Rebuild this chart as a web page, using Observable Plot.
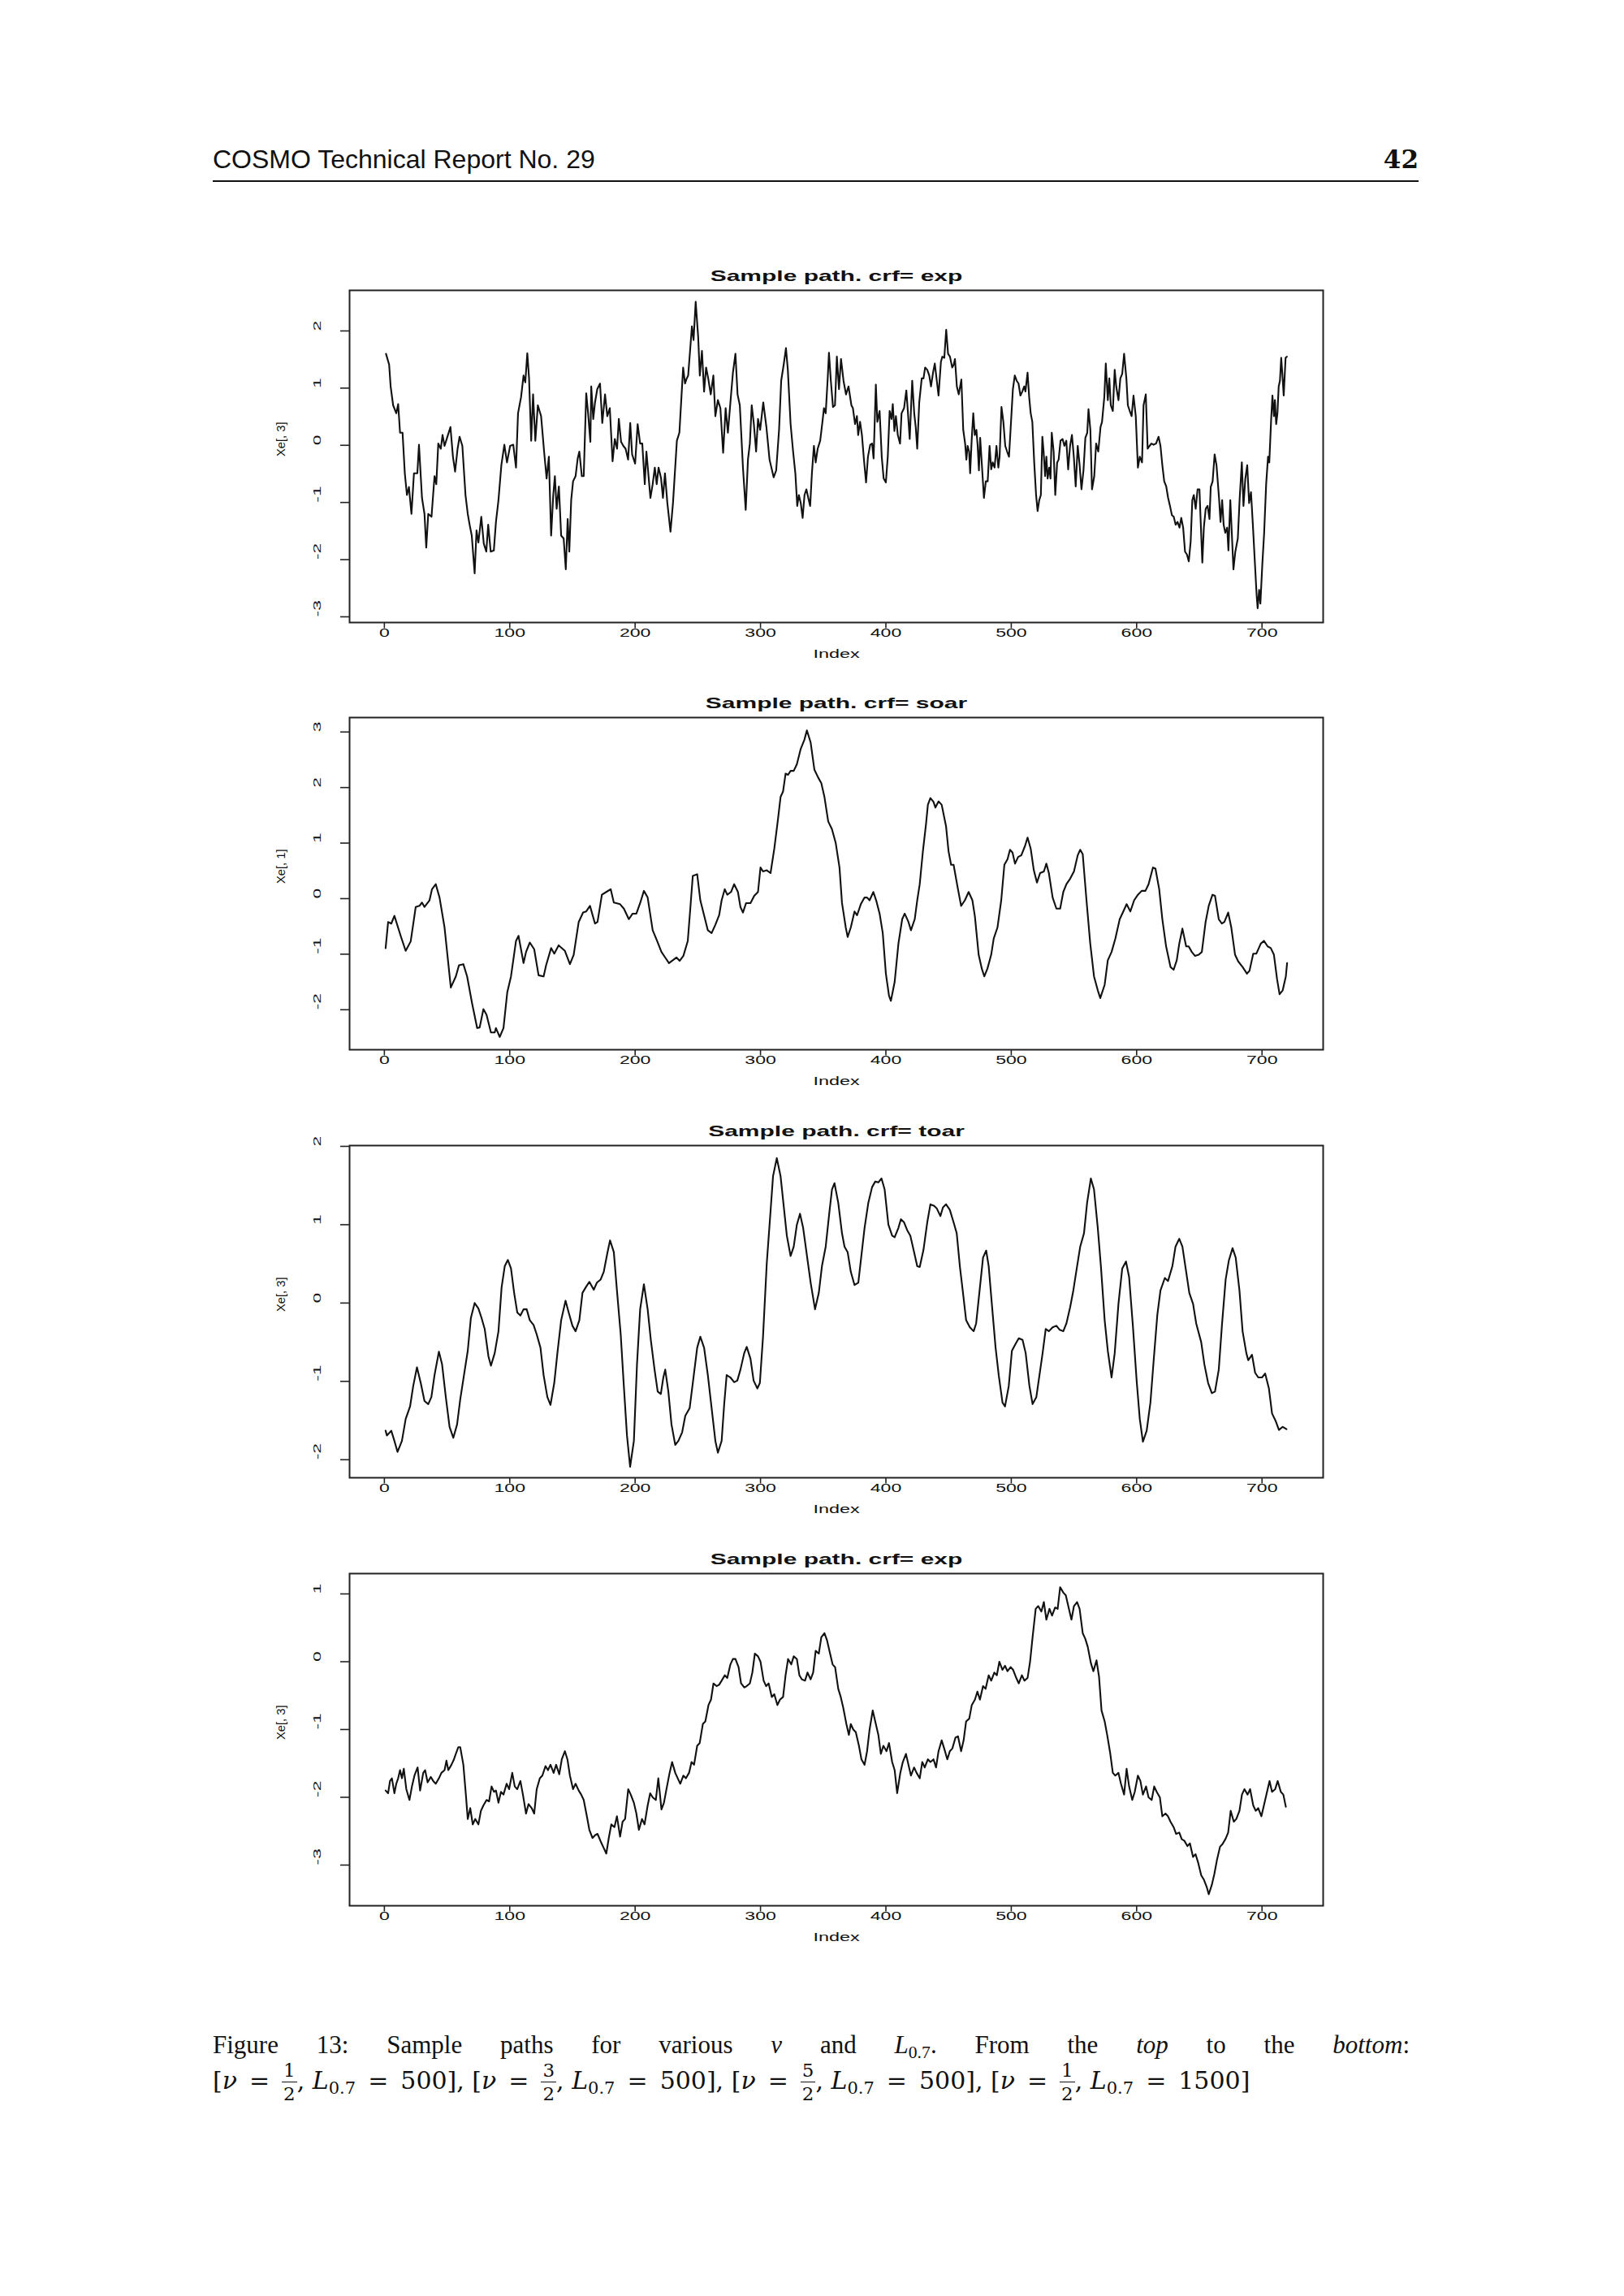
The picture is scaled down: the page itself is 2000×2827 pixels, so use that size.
<!DOCTYPE html>
<html><head><meta charset="utf-8">
<script src="https://cdn.jsdelivr.net/npm/d3@7"></script>
<script src="https://cdn.jsdelivr.net/npm/@observablehq/plot@0.6"></script>
<style>
html,body{margin:0;padding:0;background:#fff;}
#page{position:relative;width:2000px;height:2827px;overflow:hidden;background:#fff;color:#111;}
.hdr{position:absolute;top:180px;left:262px;font-family:"Liberation Sans",Arial,sans-serif;font-size:32px;line-height:1;white-space:nowrap;}
.pno{position:absolute;top:181px;right:253px;font-family:"DejaVu Serif",serif;font-weight:bold;font-size:31px;line-height:1;}
.rule{position:absolute;top:222px;left:262px;width:1485px;height:2px;background:#111;}
.panel{position:absolute;left:330px;}
.cap{position:absolute;left:262px;font-family:"Liberation Serif","Times New Roman",serif;font-size:31px;white-space:nowrap;}
.l1{top:2502px;width:1474px;line-height:1;text-align:justify;text-align-last:justify;white-space:normal;}
.l2{top:2535px;line-height:1.8;font-family:"DejaVu Serif",serif;font-size:30px;}
.l2 i{font-family:"DejaVu Serif",serif;}
.l1 sub,.l2 sub{font-size:0.7em;vertical-align:-0.28em;line-height:0;}
.eq{margin:0 15px;}
.frac{display:inline-block;vertical-align:-14px;font-size:23px;line-height:1;text-align:center;font-style:normal;}
.frac span{display:block;padding:0 2px;}
.frac .n{border-bottom:1.5px solid #111;padding-bottom:2px;}
.frac .d{padding-top:3px;}
</style></head><body>
<div id="page">
  <div class="hdr">COSMO Technical Report No. 29</div>
  <div class="pno">42</div>
  <div class="rule"></div>
  <div id="p1" class="panel" style="top:307px"></div>
  <div id="p2" class="panel" style="top:833px"></div>
  <div id="p3" class="panel" style="top:1360px"></div>
  <div id="p4" class="panel" style="top:1887px"></div>
  <div class="cap l1">Figure 13: Sample paths for various <i>ν</i> and <i>L</i><sub>0.7</sub>. From the <i>top</i> to the <i>bottom</i>:</div>
  <div class="cap l2">[<i>ν</i><span class="eq">=</span><span class="frac"><span class="n">1</span><span class="d">2</span></span>, <i>L</i><sub>0.7</sub><span class="eq">=</span>500], [<i>ν</i><span class="eq">=</span><span class="frac"><span class="n">3</span><span class="d">2</span></span>, <i>L</i><sub>0.7</sub><span class="eq">=</span>500], [<i>ν</i><span class="eq">=</span><span class="frac"><span class="n">5</span><span class="d">2</span></span>, <i>L</i><sub>0.7</sub><span class="eq">=</span>500], [<i>ν</i><span class="eq">=</span><span class="frac"><span class="n">1</span><span class="d">2</span></span>, <i>L</i><sub>0.7</sub><span class="eq">=</span>1500]</div>
</div>
<script>
// ---- data (index, value) ----
const X_TICKS = [0, 100, 200, 300, 400, 500, 600, 700];
const X_LABEL = "Index";
const X_DOMAIN = [-27.76, 748.76];

const TITLES = ["Sample path. crf= exp", "Sample path. crf= soar", "Sample path. crf= toar", "Sample path. crf= exp"];
const Y_LABELS = ["Xe[, 3]", "Xe[, 1]", "Xe[, 3]", "Xe[, 3]"];
const Y_TICKS_1 = [-3, -2, -1, 0, 1, 2];
const Y_TICKS_2 = [-2, -1, 0, 1, 2, 3];
const Y_TICKS_3 = [-2, -1, 0, 1, 2];
const Y_TICKS_4 = [-3, -2, -1, 0, 1];
const Y_DOMAIN_1 = [-3.10, 2.71];
const Y_DOMAIN_2 = [-2.72, 3.26];
const Y_DOMAIN_3 = [-2.23, 2.01];
const Y_DOMAIN_4 = [-3.60, 1.30];

const PATH_1 = [[1.3,1.60],[3.8,1.41],[5,1.03],[7,0.70],[9.5,0.56],[11,0.72],[12.5,0.22],[14.5,0.22],[16.3,-0.49],[18,-0.87],[19.6,-0.73],[21.6,-1.2],[23.6,-0.49],[26.3,-0.49],[27.6,0.01],[30,-0.92],[32,-1.2],[33.4,-1.79],[35,-1.2],[37.6,-1.25],[40,-0.54],[41.4,-0.68],[43,0.03],[45,-0.06],[46.4,0.18],[48,-0.01],[50,0.13],[52.7,0.32],[54.7,-0.2],[56.4,-0.46],[58.4,-0.06],[60,0.15],[62.2,-0.01],[64.7,-0.87],[66.5,-1.2],[68,-1.39],[69.7,-1.58],[72,-2.24],[73.5,-1.49],[75,-1.7],[77.3,-1.25],[79.3,-1.72],[81.3,-1.86],[82.8,-1.39],[84.8,-1.86],[87.3,-1.84],[89,-1.34],[91,-0.96],[93.3,-0.35],[95.7,0.01],[97.8,-0.3],[100.3,-0.01],[102.8,0.01],[105,-0.39],[106.6,0.56],[109,0.84],[111,1.22],[112.4,1.1],[114,1.61],[115.4,1.17],[117.1,0.08],[118.6,0.89],[120.4,0.08],[122.4,0.7],[125,0.51],[127.4,-0.11],[129.4,-0.58],[131.2,-0.2],[133,-1.58],[134.7,-0.87],[136,-0.54],[137.4,-1.11],[139.2,-0.72],[141,-1.58],[143,-1.63],[144.7,-2.17],[146.2,-1.29],[147.5,-1.86],[149,-0.96],[150.5,-0.63],[152.5,-0.54],[154.2,-0.23],[155.5,-0.11],[157.5,-0.54],[159,-0.54],[161,0.91],[162.5,0.56],[164.3,0.06],[165,1.03],[166.6,0.46],[168,0.75],[169.8,0.98],[172,1.08],[173.8,0.39],[176,0.89],[177.8,0.51],[179.8,0.65],[182,-0.28],[183.8,0.11],[185.6,-0.06],[187,0.46],[188.8,0.06],[190.6,-0.01],[192.4,-0.06],[194.4,-0.25],[196.1,0.39],[197.6,-0.16],[200,-0.32],[202,0.37],[204,0.03],[205.7,0.03],[207.7,-0.68],[209,-0.11],[210.7,-0.54],[212.2,-0.92],[214,-0.68],[215.7,-0.39],[217.2,-0.68],[218.7,-0.39],[220.7,-0.58],[222.2,-0.92],[223.8,-0.49],[225.7,-1.01],[228.2,-1.51],[230.2,-1.01],[233.3,0.08],[235.3,0.22],[236.8,0.79],[238.3,1.36],[239.8,1.08],[240.8,1.15],[242.3,1.22],[244.3,1.79],[245.3,2.08],[246.6,1.84],[248.3,2.51],[250.3,1.89],[251.6,1.22],[253.3,1.65],[255,0.94],[256.6,1.36],[258.3,1.17],[260.3,0.89],[262.4,1.22],[264,0.51],[266,0.79],[268,0.65],[270.2,-0.13],[272.2,0.65],[274,0.22],[276,0.75],[278,1.27],[280,1.6],[281.7,0.89],[283.5,0.7],[286,-0.39],[288.2,-1.13],[290,-0.25],[291.5,0.03],[293,0.7],[294.7,0.37],[296.5,-0.11],[298,0.46],[299.7,0.27],[302.2,0.75],[304.7,0.32],[307.2,-0.25],[310.5,-0.56],[312.5,-0.44],[314.8,0.27],[316.5,1.13],[318.5,1.41],[320.3,1.7],[321.8,1.32],[324,0.37],[326,-0.11],[327.8,-0.49],[329.3,-1.06],[330.6,-0.87],[332.1,-1.01],[333.6,-1.27],[335.1,-0.87],[336.6,-0.77],[338.1,-0.92],[339.6,-1.06],[341,-0.49],[342.6,-0.01],[344,-0.3],[345.6,-0.06],[347.6,0.08],[349.4,0.41],[350.6,0.65],[352,0.56],[353.6,1.17],[354.6,1.62],[356.1,1.13],[357.8,0.67],[359.4,0.7],[360.9,1.55],[362.6,0.98],[364.2,1.51],[366.2,1.13],[368.2,0.89],[370.2,1.03],[372.5,0.7],[373.7,0.65],[375.4,0.37],[376.9,0.51],[377.9,0.18],[379.4,0.41],[380.9,0.18],[382.5,-0.25],[384.2,-0.65],[385.7,-0.2],[387.5,0.01],[389,0.03],[390.2,-0.23],[392,1.06],[393.2,0.41],[395,0.6],[396.7,-0.2],[398.2,-0.58],[400,-0.65],[401.5,-0.2],[403,0.6],[404.5,0.46],[405.5,0.72],[406.8,0.25],[408,0.51],[409.5,0.18],[411.3,0.03],[412.5,0.56],[414.5,0.65],[416.3,0.96],[417.5,0.6],[419,0.11],[421,1.13],[422.6,0.56],[423.8,0.32],[425,-0.06],[426.6,0.75],[428.6,1.17],[430,1.17],[431.3,1.36],[433,1.32],[434.6,1.22],[436,1.03],[437.6,1.27],[439,1.43],[440.6,1.13],[442,0.87],[443.9,1.46],[445,1.55],[446.6,1.53],[448.1,2.02],[449.6,1.6],[451.1,1.55],[452.9,1.36],[454.1,1.41],[455.1,1.51],[456.6,1.03],[458.1,0.89],[460.2,1.15],[461.7,0.27],[463.2,0.03],[464.2,-0.25],[465.2,-0.01],[466.4,-0.11],[467.2,-0.49],[468.4,0.08],[469.7,0.56],[470.9,0.18],[472.2,0.27],[473.2,-0.01],[474.2,-0.44],[475.2,0.13],[476.7,-0.39],[478.2,-0.92],[479.7,-0.63],[481.2,-0.63],[482.7,-0.01],[484,-0.42],[485.2,-0.3],[486.7,-0.39],[488.2,-0.01],[489.7,-0.39],[490.7,-0.2],[492.2,0.67],[493.7,0.41],[495.2,-0.01],[496.7,-0.11],[498.2,-0.2],[499.7,0.37],[501.3,0.98],[502.8,1.22],[504.3,1.13],[505.8,1.08],[507.3,0.87],[508.8,0.94],[510.3,1.03],[511.3,0.94],[513,1.27],[514.3,0.84],[515.5,0.56],[516.8,0.41],[518.3,-0.3],[519.8,-0.87],[521,-1.15],[522.3,-0.96],[523.6,-0.87],[524.8,0.15],[525.8,-0.11],[527,-0.54],[528,-0.2],[529,-0.58],[530.3,-0.39],[531.3,-0.58],[532.3,0.22],[533.8,-0.11],[535.1,-0.87],[536.6,-0.3],[537.8,-0.25],[539.3,0.08],[540.9,0.11],[542.4,-0.01],[543.9,0.08],[545.4,-0.42],[546.9,-0.01],[548.4,0.18],[549.9,-0.2],[551.4,-0.72],[553,-0.01],[554.5,-0.34],[556,-0.77],[557.6,-0.44],[559.1,0.13],[560.6,0.22],[561.6,0.63],[563.1,0.27],[564.4,-0.77],[566.2,-0.54],[567.7,0.03],[569.4,-0.11],[571.2,0.32],[572.4,0.41],[574.2,0.84],[575.4,1.43],[577,0.79],[578.2,1.17],[579.4,0.7],[581,0.6],[582.5,1.32],[583.7,1.03],[585.5,0.79],[587,1.17],[588.5,1.25],[590,1.6],[591.8,1.17],[593,0.7],[594.5,0.6],[596,0.51],[597.5,0.87],[599.3,0.51],[601,-0.39],[602.5,-0.2],[604.3,-0.3],[605.5,0.7],[607.3,0.89],[608.8,-0.06],[610.3,-0.01],[611.8,0.03],[613.5,0.01],[615.5,0.03],[617.5,0.15],[619,-0.01],[620.5,-0.35],[622,-0.63],[623.6,-0.72],[625.1,-0.92],[626.6,-1.06],[628.1,-1.22],[629.6,-1.25],[631.1,-1.39],[632.6,-1.34],[634.2,-1.44],[635.6,-1.27],[637.1,-1.44],[638.6,-1.86],[640.1,-1.91],[641.6,-2.03],[643.1,-1.68],[644.4,-0.96],[645.6,-0.87],[647.1,-1.11],[648.6,-0.77],[650.1,-0.77],[651.1,-1.34],[652.4,-2.05],[653.6,-1.44],[655.1,-1.11],[656.6,-1.06],[658.1,-1.29],[659.1,-0.73],[660.6,-0.63],[662.2,-0.16],[663.7,-0.35],[665.7,-0.92],[666.9,-1.34],[668.2,-0.96],[669.4,-1.39],[670.7,-1.53],[672.2,-1.44],[673.2,-1.84],[674.7,-0.96],[675.9,-1.53],[677.2,-2.17],[678.7,-1.86],[680.7,-1.63],[682.2,-0.92],[683.9,-0.3],[685.2,-1.06],[686.7,-0.58],[688.2,-0.35],[689.7,-1.01],[691.2,-0.82],[692.7,-1.39],[694.2,-2.01],[695.7,-2.62],[696.5,-2.85],[697.7,-2.53],[698.7,-2.77],[700.2,-2.1],[701.7,-1.53],[703.3,-0.68],[704.8,-0.2],[705.8,-0.3],[707.3,0.46],[708.3,0.87],[709.5,0.51],[710.3,0.79],[711.3,0.37],[712.3,0.56],[713.3,1.03],[714.3,1.13],[715.3,1.53],[716.3,1.22],[717.3,0.87],[718.8,1.53],[719.8,1.55]];

const PATH_2 = [[1,-0.89],[3,-0.42],[5.5,-0.45],[8,-0.31],[13,-0.67],[17,-0.94],[21,-0.77],[25,-0.15],[28,-0.13],[30,-0.07],[32,-0.15],[36,-0.03],[38,0.17],[41,0.26],[44,0.02],[48,-0.52],[53,-1.6],[57,-1.4],[59.5,-1.2],[63,-1.18],[66,-1.4],[70,-1.89],[74,-2.33],[76,-2.32],[79,-1.99],[81.5,-2.09],[85,-2.41],[88,-2.41],[89,-2.33],[92,-2.49],[95,-2.33],[98,-1.69],[101,-1.4],[105,-0.76],[107,-0.67],[111,-1.16],[113,-0.96],[116,-0.79],[119.5,-0.91],[123,-1.38],[127,-1.4],[129,-1.2],[133,-0.89],[135.5,-0.99],[139,-0.84],[144,-0.94],[148,-1.18],[151,-1.01],[155,-0.42],[158.5,-0.25],[161,-0.23],[164,-0.13],[168,-0.45],[170,-0.42],[173.5,0.07],[177,0.12],[180.5,0.17],[183,-0.07],[188,-0.1],[191,-0.18],[195,-0.37],[198,-0.27],[201,-0.27],[204,-0.08],[207,0.14],[210,0.02],[214,-0.57],[217.5,-0.76],[221,-0.96],[224,-1.06],[227,-1.16],[230,-1.11],[233,-1.06],[235.5,-1.12],[238.5,-1.03],[242,-0.76],[244,-0.18],[246,0.41],[249.5,0.44],[252,-0.03],[255,-0.3],[258,-0.57],[261,-0.62],[264,-0.47],[267,-0.3],[269,-0.03],[271.5,0.17],[273.5,0.07],[276.5,0.12],[279,0.26],[282,0.12],[284,-0.15],[286,-0.25],[288.5,-0.08],[292,-0.08],[295,0.05],[298,0.12],[300,0.56],[302,0.49],[305,0.51],[308,0.46],[311,0.9],[314,1.44],[316,1.83],[318,1.93],[320,2.25],[322,2.23],[324,2.3],[326.5,2.3],[329,2.42],[332,2.69],[335,2.86],[337,3.03],[340,2.81],[343,2.32],[346,2.18],[348.5,2.08],[351,1.83],[354,1.39],[357,1.25],[360,1.0],[363,0.56],[365,-0.08],[368,-0.52],[369.5,-0.69],[372,-0.52],[375,-0.23],[377,-0.3],[380,-0.1],[383,0.02],[385,0.02],[387,-0.03],[390,0.12],[392.5,-0.05],[395,-0.27],[397.5,-0.62],[400,-1.35],[402.5,-1.75],[404,-1.84],[407,-1.5],[410,-0.81],[413,-0.37],[415,-0.27],[418,-0.42],[420,-0.57],[423,-0.37],[425,-0.03],[427,0.26],[429.5,0.85],[432,1.34],[433.5,1.69],[435.5,1.81],[438,1.74],[439.5,1.64],[442,1.75],[444.5,1.69],[448,1.3],[450,0.85],[452,0.61],[454,0.61],[457.5,0.17],[460,-0.13],[463,-0.03],[466,0.12],[469,-0.03],[471,-0.32],[474,-1.01],[476.5,-1.26],[478.5,-1.4],[481,-1.26],[484,-1.01],[486,-0.72],[489,-0.52],[492,-0.03],[494.5,0.61],[497,0.71],[499,0.88],[501,0.83],[503,0.63],[505.5,0.75],[508,0.78],[511,0.95],[513,1.1],[515.5,0.9],[518,0.51],[520.5,0.29],[523,0.46],[526,0.49],[528,0.63],[530,0.46],[533,0.02],[536,-0.18],[539,-0.18],[541.5,0.12],[544,0.26],[547,0.36],[550,0.49],[553,0.78],[555,0.88],[557,0.8],[560,-0.03],[563,-0.81],[566,-1.4],[569,-1.65],[571,-1.79],[574.5,-1.55],[577,-1.11],[580,-0.96],[583,-0.72],[586.5,-0.37],[589,-0.25],[592,-0.1],[595,-0.23],[598,-0.03],[601,0.07],[604,0.14],[607,0.14],[609.5,0.26],[613,0.56],[615,0.54],[618,0.17],[620.5,-0.37],[623.5,-0.86],[627,-1.23],[629.5,-1.28],[632,-1.11],[634,-0.81],[636.5,-0.54],[639.5,-0.86],[641.5,-0.86],[644,-0.96],[646.5,-1.03],[649.5,-1.01],[652,-0.96],[655,-0.42],[657.5,-0.13],[660.5,0.07],[662.5,0.05],[665.5,-0.37],[668,-0.45],[670,-0.42],[673,-0.25],[675.5,-0.52],[678.5,-1.01],[681,-1.13],[684.5,-1.23],[688,-1.35],[690,-1.3],[693,-0.99],[695.5,-0.99],[699,-0.81],[701.5,-0.76],[704.5,-0.86],[707,-0.89],[709.5,-1.01],[712,-1.45],[714,-1.72],[716.5,-1.65],[719,-1.4],[720,-1.16]];

const PATH_3 = [[1,-1.63],[2,-1.69],[5.5,-1.63],[8,-1.76],[10.5,-1.9],[14,-1.76],[17,-1.48],[20.5,-1.32],[23,-1.06],[26,-0.82],[29,-1.02],[32,-1.25],[35,-1.29],[37.5,-1.2],[40,-0.92],[43.5,-0.62],[46,-0.78],[49,-1.2],[52,-1.58],[55,-1.72],[58,-1.55],[60.5,-1.23],[63.5,-0.92],[66.5,-0.61],[69,-0.19],[72,0.0],[75,-0.07],[77.5,-0.19],[80,-0.33],[83,-0.68],[85,-0.8],[88,-0.64],[91,-0.36],[93.5,0.2],[96,0.47],[98.5,0.55],[101,0.44],[103.5,0.13],[106,-0.12],[108.5,-0.16],[111,-0.08],[113.5,-0.08],[116,-0.22],[119,-0.28],[121.5,-0.4],[124.5,-0.57],[127,-0.92],[130,-1.2],[132.5,-1.3],[135.5,-1.02],[138,-0.64],[141,-0.22],[144.5,0.03],[147,-0.12],[150,-0.29],[152.5,-0.36],[155.5,-0.22],[158,0.13],[161,0.21],[163.5,0.27],[167,0.17],[169.5,0.26],[172.5,0.3],[175,0.4],[178,0.65],[180,0.8],[183,0.65],[185.5,0.16],[188.5,-0.4],[191,-1.06],[193.5,-1.69],[196,-2.09],[199,-1.76],[201.5,-0.78],[204,-0.08],[207,0.24],[210,-0.08],[212.5,-0.47],[215.5,-0.85],[218,-1.13],[220.5,-1.16],[222.5,-0.95],[224,-0.85],[226.5,-1.13],[229,-1.55],[232,-1.81],[234.5,-1.76],[237.5,-1.65],[240,-1.44],[243.5,-1.34],[246,-1.02],[249.5,-0.57],[252,-0.43],[255,-0.57],[258,-0.92],[261,-1.34],[264,-1.76],[266,-1.91],[269,-1.76],[271,-1.3],[273,-0.92],[276,-0.95],[279,-1.01],[281.5,-0.99],[284,-0.85],[287,-0.64],[289,-0.56],[292,-0.71],[294.5,-0.99],[297.5,-1.09],[299.5,-1.02],[302,-0.43],[305,0.51],[308,1.17],[310,1.62],[313,1.85],[316,1.62],[318.5,1.24],[321,0.86],[324,0.6],[326.5,0.72],[329,1.0],[331.5,1.14],[334,0.96],[337,0.61],[340,0.26],[343.5,-0.08],[346.5,0.13],[349,0.47],[352,0.72],[355,1.17],[357,1.45],[359,1.53],[362,1.28],[365,0.89],[367,0.72],[369.5,0.65],[372,0.4],[375,0.23],[378,0.26],[380.5,0.61],[383,0.96],[386,1.28],[389,1.48],[391.5,1.55],[394,1.54],[396.5,1.59],[399,1.45],[402,1.0],[405,0.86],[407,0.84],[410,0.96],[412,1.07],[414.5,1.03],[417,0.93],[419.5,0.86],[422.5,0.65],[425,0.47],[427,0.46],[430,0.68],[433,1.03],[435.5,1.26],[438.5,1.24],[440.5,1.21],[443.5,1.11],[445.5,1.22],[448,1.26],[451,1.19],[454,1.03],[456.5,0.89],[459,0.47],[461.5,0.13],[464,-0.22],[467,-0.31],[470,-0.36],[472,-0.26],[475,0.2],[477.5,0.58],[480,0.67],[482,0.47],[484.5,-0.01],[487.5,-0.57],[490,-0.92],[493,-1.27],[495,-1.32],[498,-1.06],[500.5,-0.61],[503.5,-0.52],[506,-0.45],[509,-0.47],[511.5,-0.64],[514.5,-1.06],[517,-1.29],[520,-1.2],[522.5,-0.92],[525,-0.64],[527.5,-0.33],[530,-0.36],[533,-0.31],[536,-0.29],[538.5,-0.34],[541.5,-0.36],[544,-0.26],[547,-0.05],[549.5,0.16],[552.5,0.47],[555,0.72],[558,0.89],[560.5,1.28],[563.5,1.59],[566,1.45],[569,0.96],[571.5,0.47],[574.5,-0.22],[577,-0.61],[580,-0.95],[582.5,-0.64],[585.5,-0.01],[588.5,0.44],[591.5,0.53],[594,0.33],[597,-0.29],[600,-0.99],[602.5,-1.48],[605,-1.77],[608,-1.63],[611,-1.27],[613.5,-0.75],[616.5,-0.15],[619,0.16],[622.5,0.32],[625,0.28],[628.5,0.47],[631,0.72],[634,0.82],[636.5,0.72],[639.5,0.4],[642,0.13],[645,-0.01],[647.5,-0.26],[651.5,-0.5],[654,-0.78],[657,-1.02],[660,-1.15],[662.5,-1.13],[665.5,-0.85],[668,-0.29],[671,0.3],[673.5,0.54],[676.5,0.7],[679,0.58],[682,0.16],[684.5,-0.36],[687.5,-0.64],[689,-0.73],[692,-0.66],[694.5,-0.89],[697,-0.95],[700,-0.95],[702.5,-0.9],[705.5,-1.09],[708,-1.41],[711,-1.51],[713.5,-1.62],[716.5,-1.58],[719.5,-1.61]];

const PATH_4 = [[1,-1.9],[3,-1.94],[4.5,-1.76],[6,-1.72],[8,-1.94],[9.5,-1.8],[11,-1.72],[12.5,-1.6],[14,-1.72],[15.5,-1.58],[17.5,-1.88],[20,-2.04],[22,-1.84],[24,-1.68],[26.5,-1.56],[28.5,-1.9],[31,-1.64],[32.5,-1.6],[34.5,-1.78],[37,-1.7],[39,-1.76],[41,-1.8],[43.5,-1.72],[45.5,-1.64],[48,-1.6],[49.5,-1.46],[51,-1.6],[53.5,-1.52],[55.5,-1.44],[57,-1.36],[59,-1.26],[60.5,-1.26],[63,-1.52],[65,-1.96],[66.5,-2.32],[68.5,-2.16],[70.5,-2.4],[72.5,-2.32],[75,-2.4],[77,-2.2],[79,-2.12],[81.5,-2.04],[83.5,-2.06],[85.5,-1.84],[87.5,-1.92],[89,-1.9],[91,-2.08],[93,-1.92],[95,-1.96],[97.5,-1.8],[99.5,-1.88],[102,-1.64],[104,-1.84],[106,-1.88],[108.5,-1.76],[110.5,-1.96],[113,-2.24],[115,-2.1],[117.5,-2.16],[119.5,-2.24],[121.5,-1.88],[124,-1.72],[126,-1.68],[128.5,-1.54],[130.5,-1.6],[132.5,-1.52],[135,-1.64],[137,-1.52],[139.5,-1.66],[141.5,-1.44],[144,-1.32],[146,-1.44],[148,-1.68],[150.5,-1.88],[152.5,-1.8],[155,-1.9],[157,-1.96],[159,-2.04],[161.5,-2.28],[163.5,-2.48],[166,-2.6],[168,-2.56],[170,-2.54],[172.5,-2.65],[174.5,-2.73],[177,-2.83],[179,-2.6],[181,-2.4],[183.5,-2.44],[185.5,-2.28],[188,-2.58],[190,-2.36],[192,-2.32],[194.5,-1.88],[196.5,-1.96],[199,-2.08],[201,-2.24],[203,-2.48],[205.5,-2.32],[207.5,-2.4],[210,-2.12],[212,-1.94],[214,-2.0],[216.5,-2.04],[218.5,-1.72],[221,-2.18],[223,-2.08],[225,-1.88],[227.5,-1.64],[229.5,-1.48],[232,-1.64],[234,-1.72],[236,-1.8],[238.5,-1.68],[240.5,-1.72],[243,-1.64],[245,-1.48],[247,-1.52],[249.5,-1.24],[251.5,-1.2],[254,-0.92],[256,-0.88],[258.5,-0.64],[260.5,-0.56],[262.5,-0.32],[265,-0.36],[267,-0.34],[269,-0.28],[271.5,-0.2],[273.5,-0.24],[276,-0.04],[278,0.04],[280,0.04],[282.5,-0.08],[284.5,-0.32],[287,-0.38],[289,-0.36],[291.5,-0.32],[293.5,-0.16],[295.5,0.12],[298,0.08],[300,0.0],[302.5,-0.28],[304.5,-0.36],[306.5,-0.32],[309,-0.52],[311,-0.48],[313.5,-0.64],[315.5,-0.56],[318,-0.52],[320,-0.2],[322,0.04],[324.5,-0.04],[326.5,0.08],[329,0.04],[331,-0.2],[333,-0.26],[335.5,-0.28],[337.5,-0.16],[340,-0.26],[342,-0.16],[344,0.16],[346.5,0.12],[348.5,0.36],[351,0.42],[353,0.32],[355,0.16],[357.5,-0.04],[359.5,-0.08],[362,-0.4],[364,-0.52],[366,-0.68],[368.5,-0.92],[370.5,-1.08],[372,-0.92],[374,-1.0],[376,-1.04],[378.5,-1.24],[380.5,-1.44],[383,-1.52],[385,-1.32],[387,-1.0],[389.5,-0.72],[391.5,-0.88],[394,-1.08],[396,-1.36],[398,-1.24],[400.5,-1.32],[402.5,-1.2],[405,-1.48],[407,-1.6],[409,-1.94],[411.5,-1.64],[413.5,-1.48],[416,-1.36],[418,-1.52],[420,-1.68],[422.5,-1.56],[424.5,-1.64],[427,-1.72],[429,-1.48],[431,-1.56],[433.5,-1.44],[435.5,-1.48],[438,-1.44],[440,-1.56],[442,-1.32],[444.5,-1.16],[446.5,-1.28],[449,-1.44],[451,-1.32],[453,-1.28],[455.5,-1.12],[457.5,-1.1],[460,-1.32],[462,-1.16],[464,-0.88],[466.5,-0.84],[468.5,-0.64],[471,-0.56],[473,-0.44],[475,-0.56],[477.5,-0.36],[479.5,-0.4],[482,-0.2],[484,-0.28],[486.5,-0.16],[488.5,-0.2],[490.5,0.0],[493,-0.12],[495,-0.06],[497,-0.14],[499.5,-0.08],[501.5,-0.12],[504,-0.24],[506,-0.32],[508.5,-0.2],[510.5,-0.28],[513,-0.24],[515,0.0],[517,0.36],[519.5,0.78],[521.5,0.82],[524,0.74],[526,0.88],[528,0.62],[530.5,0.78],[532.5,0.68],[535,0.8],[537,0.78],[539,1.1],[541.5,1.02],[543.5,0.98],[546,0.78],[548,0.62],[550,0.82],[552.5,0.88],[554.5,0.78],[557,0.42],[559,0.34],[561,0.22],[563.5,-0.02],[565.5,-0.14],[568,0.02],[570,-0.22],[572,-0.72],[574.5,-0.88],[576.5,-1.08],[579,-1.36],[581,-1.64],[583,-1.68],[585.5,-1.64],[587.5,-1.8],[590,-1.96],[592,-1.58],[594,-1.84],[596.5,-2.04],[598.5,-1.92],[601,-1.68],[603,-1.76],[605,-1.96],[607.5,-1.84],[609.5,-2.0],[612,-2.04],[614,-1.84],[616,-1.92],[618.5,-2.0],[620.5,-2.28],[623,-2.24],[625,-2.28],[627,-2.36],[629.5,-2.44],[631.5,-2.54],[634,-2.52],[636,-2.62],[638,-2.64],[640.5,-2.72],[642.5,-2.68],[645,-2.88],[647,-2.84],[649,-2.96],[651.5,-3.15],[653.5,-3.21],[656,-3.33],[657.5,-3.43],[660,-3.29],[662,-3.13],[664,-2.93],[666.5,-2.73],[668.5,-2.69],[671,-2.61],[673,-2.52],[675,-2.2],[677.5,-2.36],[679.5,-2.32],[682,-2.2],[684,-1.96],[686,-1.88],[688.5,-1.96],[690.5,-1.88],[693,-2.12],[695,-2.2],[697,-2.16],[699.5,-2.28],[701.5,-2.12],[704,-1.92],[706,-1.76],[708,-1.92],[710.5,-1.88],[712.5,-1.76],[715,-1.92],[717,-1.96],[719,-2.14]];

// ---- drawing ----
const FONT = "Liberation Sans, Arial, Helvetica, sans-serif";
const fmtX = d => String(d);
const fmtY = d => (d < 0 ? "-" + Math.abs(d) : String(d));

// widen the glyphs of each text mark, like the R device's wide lettering
function stretchGroup(g, k) {
  g.querySelectorAll("text").forEach(t => {
    const L = t.getComputedTextLength();
    if (L > 0) {
      t.setAttribute("textLength", (L * k).toFixed(2));
      t.setAttribute("lengthAdjust", "spacingAndGlyphs");
    }
  });
}

function panel(id, pairs, yDomain, yTicks, title, ylab) {
  const data = pairs.map(([i, v]) => ({i, v}));
  const svg = Plot.plot({
    width: 1330, height: 527,
    marginTop: 50, marginBottom: 68, marginLeft: 100, marginRight: 31,
    x: {domain: X_DOMAIN, axis: null},
    y: {domain: yDomain, axis: null},
    style: {background: "#fff", color: "#111", overflow: "visible", fontFamily: FONT},
    marks: [
      Plot.ruleX(X_TICKS, {x: d => d, y1: () => yDomain[0], y2: () => yDomain[0], insetBottom: -7.5, stroke: "#222", strokeWidth: 1.6}),
      Plot.ruleY(yTicks, {y: d => d, x1: () => X_DOMAIN[0], x2: () => X_DOMAIN[0], insetLeft: -11, stroke: "#222", strokeWidth: 1.6}),
      Plot.line(data, {x: "i", y: "v", stroke: "#111", strokeWidth: 2.1, strokeLinejoin: "round"}),
      Plot.frame({stroke: "#222", strokeWidth: 2}),
      Plot.text(X_TICKS, {x: d => d, frameAnchor: "bottom", dy: 17, text: fmtX, fontSize: 14}),
      Plot.text(yTicks, {y: d => d, frameAnchor: "left", dx: -39, rotate: -90, text: fmtY, fontSize: 12}),
      Plot.text([X_LABEL], {frameAnchor: "bottom", dy: 43, text: d => d, fontSize: 15}),
      Plot.text([ylab], {frameAnchor: "left", dx: -84, rotate: -90, text: d => d, fontSize: 15.5}),
      Plot.text([title], {frameAnchor: "top", dy: -25, text: d => d, fontSize: 18.5, fontWeight: "bold"})
    ]
  });
  document.getElementById(id).appendChild(svg);
  // text-mark groups, in mark order: x tick labels, y tick labels, x label, y label, title
  const groups = Array.from(svg.querySelectorAll("g")).filter(g => g.querySelector(":scope > text"));
  const factors = [1.65, 1.9, 1.56, 0.95, 1.62];
  groups.forEach((g, j) => { if (j < factors.length) stretchGroup(g, factors[j]); });
}

panel("p1", PATH_1, Y_DOMAIN_1, Y_TICKS_1, TITLES[0], Y_LABELS[0]);
panel("p2", PATH_2, Y_DOMAIN_2, Y_TICKS_2, TITLES[1], Y_LABELS[1]);
panel("p3", PATH_3, Y_DOMAIN_3, Y_TICKS_3, TITLES[2], Y_LABELS[2]);
panel("p4", PATH_4, Y_DOMAIN_4, Y_TICKS_4, TITLES[3], Y_LABELS[3]);
</script>
</body></html>
